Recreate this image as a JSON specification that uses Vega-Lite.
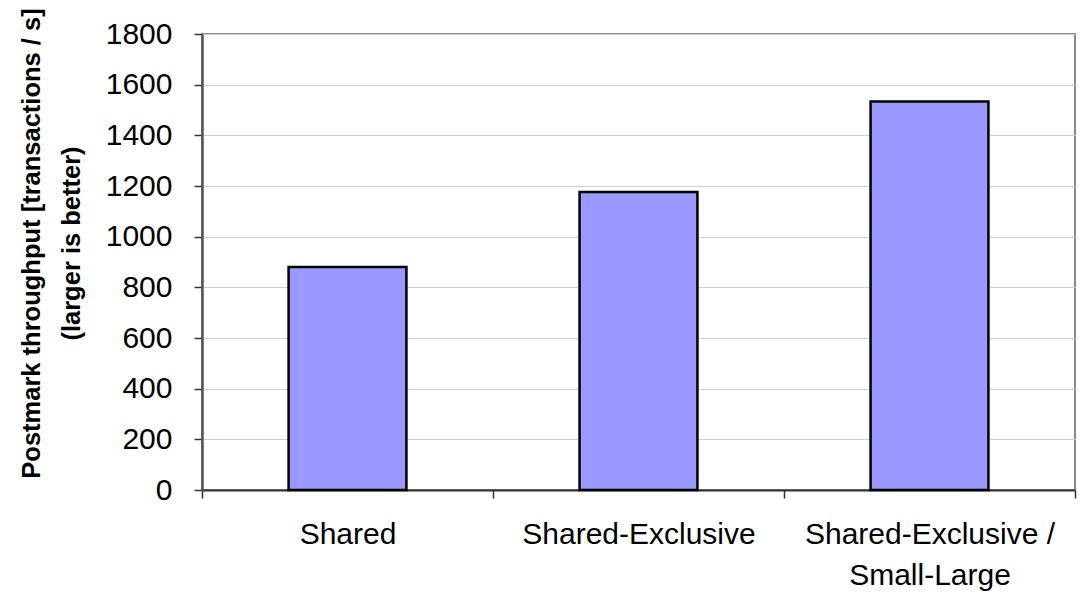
{
  "$schema": "https://vega.github.io/schema/vega-lite/v6.json",
  "autosize": "none",
  "width": 873,
  "height": 456,
  "padding": {"left": 202, "top": 34, "right": 7, "bottom": 103},
  "background": "white",
  "config": {
    "font": "Liberation Sans",
    "view": {"stroke": "#8a8a8a", "strokeWidth": 2}
  },
  "data": {
    "values": [
      {"scheme": "Shared", "throughput": 880},
      {"scheme": "Shared-Exclusive", "throughput": 1176},
      {"scheme": "Shared-Exclusive / Small-Large", "throughput": 1534}
    ]
  },
  "mark": {
    "type": "bar",
    "width": {"band": 0.405},
    "fill": "#9999ff",
    "stroke": "#000000",
    "strokeWidth": 2.5
  },
  "encoding": {
    "x": {
      "field": "scheme",
      "type": "nominal",
      "sort": null,
      "scale": {"paddingInner": 0, "paddingOuter": 0},
      "axis": {
        "title": null,
        "tickBand": "extent",
        "labelAngle": 0,
        "labelFont": "Liberation Sans",
        "labelFontSize": 30,
        "labelColor": "#000000",
        "labelPadding": 21,
        "labelLineHeight": 41,
        "labelLimit": 400,
        "labelExpr": "datum.label == 'Shared-Exclusive / Small-Large' ? ['Shared-Exclusive /', 'Small-Large'] : datum.label",
        "tickSize": 8,
        "tickColor": "#333333",
        "tickWidth": 1.5,
        "domainColor": "#333333",
        "domainWidth": 2,
        "grid": false
      }
    },
    "y": {
      "field": "throughput",
      "type": "quantitative",
      "scale": {"domain": [0, 1800], "nice": false},
      "axis": {
        "values": [0, 200, 400, 600, 800, 1000, 1200, 1400, 1600, 1800],
        "format": "d",
        "title": ["Postmark throughput [transactions / s]", "(larger is better)"],
        "titleFont": "Liberation Sans",
        "titleFontSize": 25.5,
        "titleFontWeight": "bold",
        "titleColor": "#000000",
        "titleLineHeight": 40,
        "titleAngle": -90,
        "titleAlign": "center",
        "titleBaseline": "alphabetic",
        "titleX": -163,
        "titleY": 209,
        "labelFont": "Liberation Sans",
        "labelFontSize": 30,
        "labelColor": "#000000",
        "labelPadding": 22,
        "tickSize": 8,
        "tickColor": "#333333",
        "tickWidth": 1.5,
        "domainColor": "#555555",
        "domainWidth": 2.5,
        "grid": true,
        "gridColor": "#cccccc",
        "gridWidth": 1.2
      }
    }
  }
}
